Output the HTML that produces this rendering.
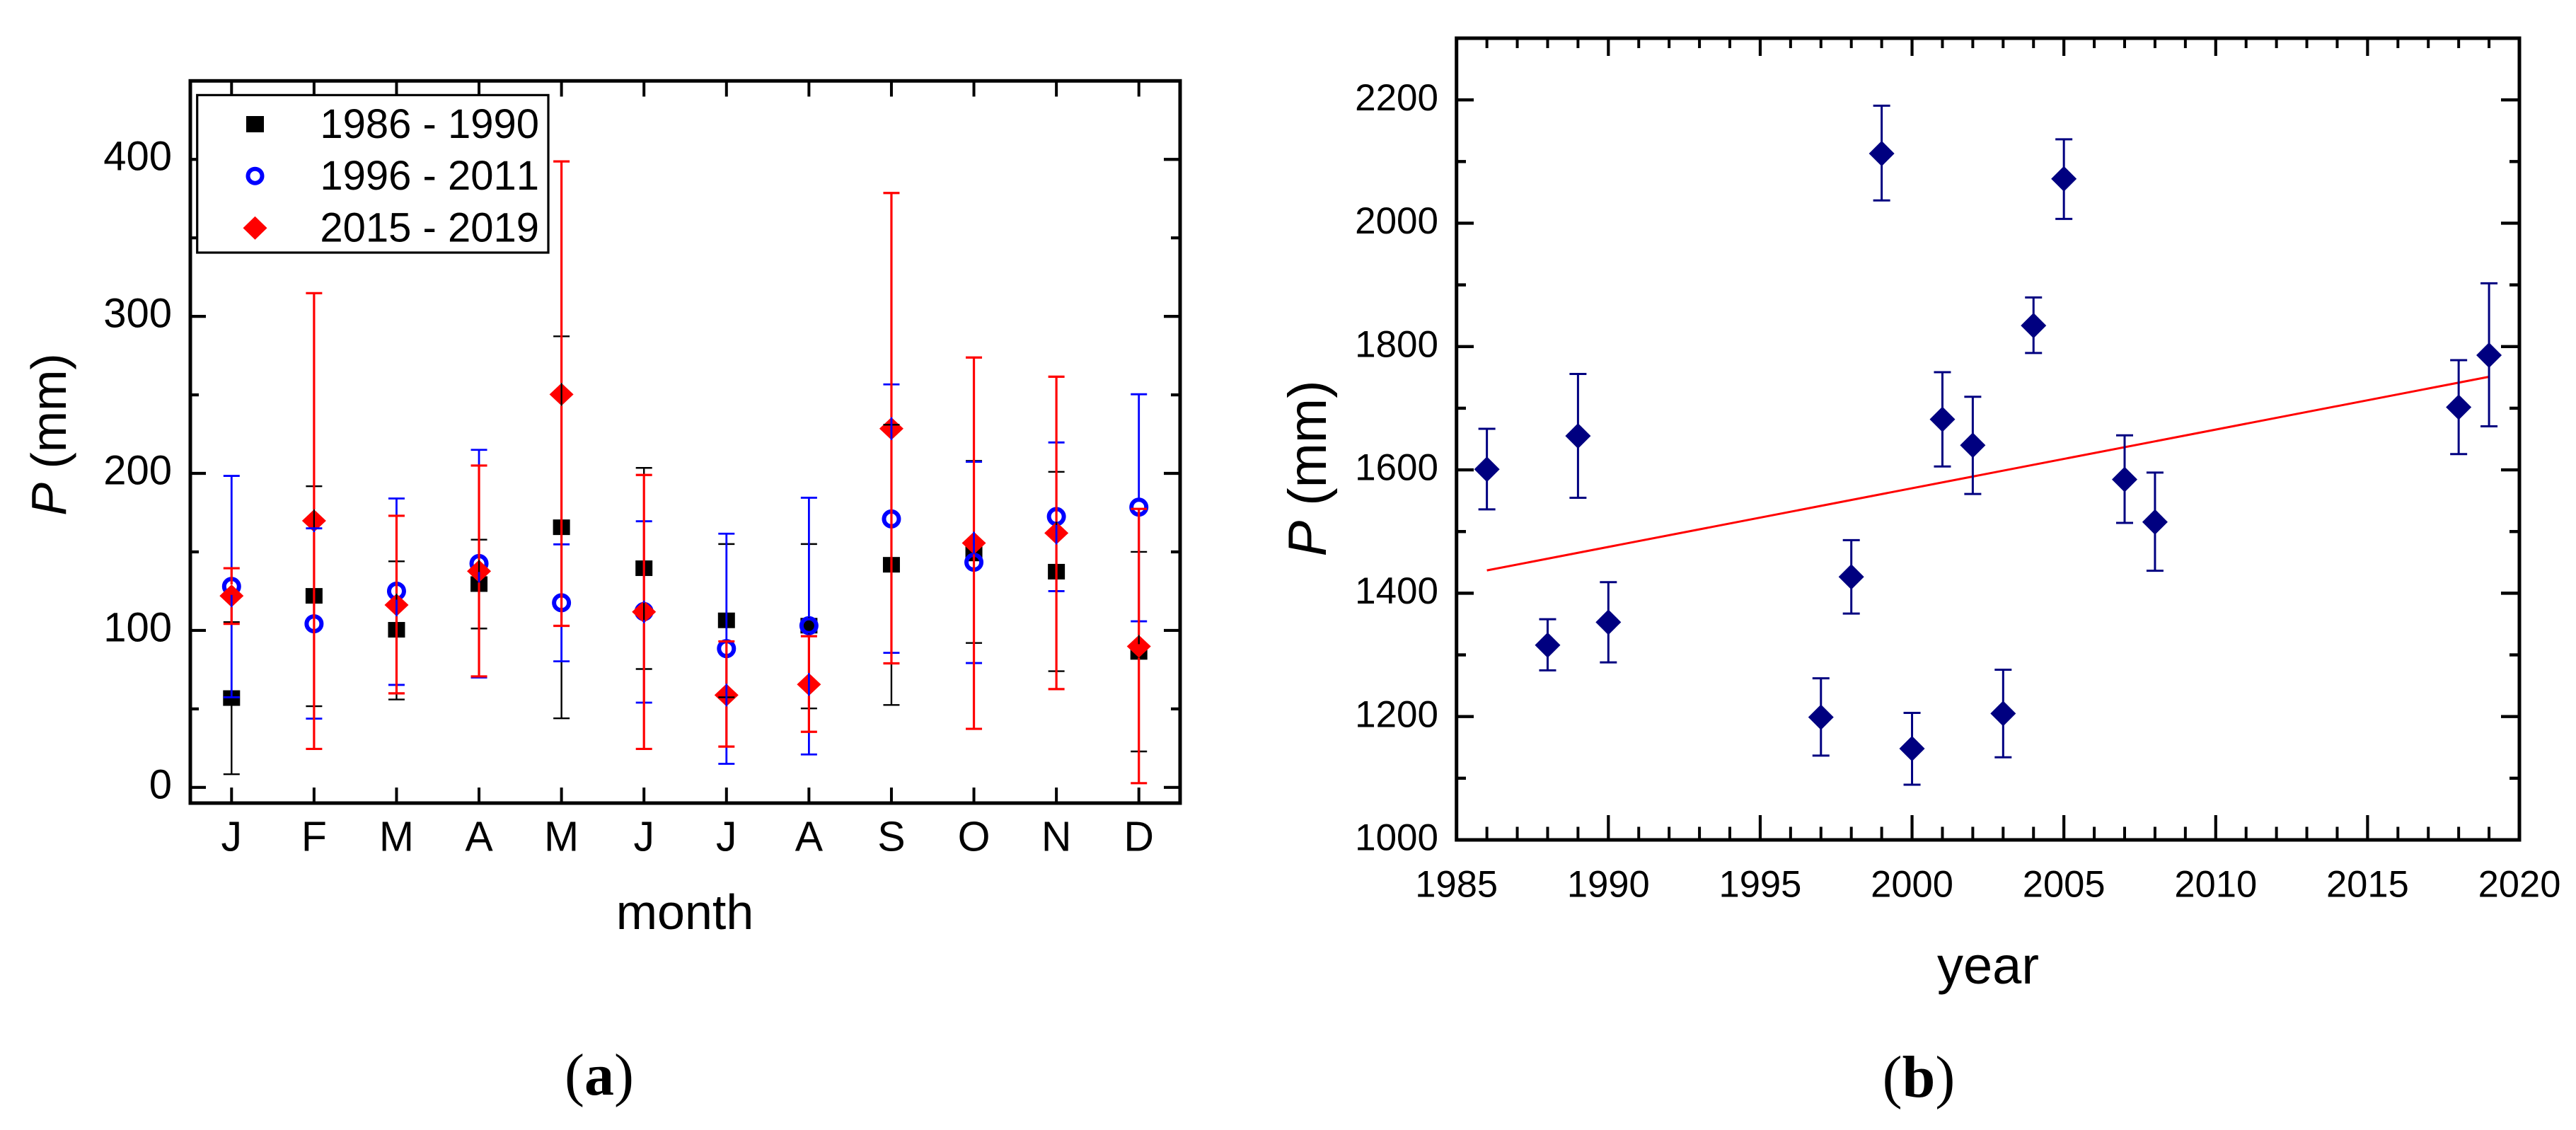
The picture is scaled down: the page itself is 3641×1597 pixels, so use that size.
<!DOCTYPE html>
<html lang="en">
<head>
<meta charset="utf-8">
<title>Precipitation charts</title>
<style>
html,body{margin:0;padding:0;background:#fff;}
svg{display:block;}
text{font-family:"Liberation Sans",Arial,sans-serif;fill:#000;font-kerning:none;}
.cap{font-family:"Liberation Serif","Times New Roman",serif;}
</style>
</head>
<body>
<svg xmlns="http://www.w3.org/2000/svg" width="3641" height="1597" viewBox="0 0 3641 1597">
  <rect x="0" y="0" width="3641" height="1597" fill="#fff"/>

  <g id="panel-a">
    <g id="a-axes"></g>
    <g id="a-marks"></g>
    <rect x="269" y="114.3" width="1399" height="1020.7" fill="none" stroke="#000" stroke-width="5"/>
    <text x="968" y="1313" font-size="70" text-anchor="middle">month</text>
    <text transform="translate(93 614) rotate(-90)" font-size="70" text-anchor="middle"><tspan font-style="italic">P</tspan> (mm)</text>
    <g>
      <rect x="278.7" y="134.4" width="496.3" height="222.6" fill="#fff" stroke="#000" stroke-width="3.2"/>
      <g>
        <rect x="348" y="164" width="25" height="23" fill="#000"/>
        <text x="762" y="195" font-size="58" text-anchor="end">1986 - 1990</text>
      </g>
      <g>
        <circle cx="360.5" cy="248.7" r="10" fill="none" stroke="#0000ff" stroke-width="6"/>
        <text x="762" y="268" font-size="58" text-anchor="end">1996 - 2011</text>
      </g>
      <g>
        <polygon points="360.5,305.8 377.5,322.3 360.5,338.8 343.5,322.3" fill="#ff0000"/>
        <text x="762" y="341.5" font-size="58" text-anchor="end">2015 - 2019</text>
      </g>
    </g>
    <text class="cap" x="847" y="1547" font-size="84" text-anchor="middle">(<tspan font-weight="bold">a</tspan>)</text>
  </g>

  <g id="panel-b">
    <g id="b-axes"></g>
    <g id="b-marks"></g>
    <rect x="2058.7" y="54" width="1502.3" height="1133" fill="none" stroke="#000" stroke-width="5"/>
    <text x="2810" y="1390" font-size="74" text-anchor="middle">year</text>
    <text transform="translate(1874 662) rotate(-90)" font-size="76" text-anchor="middle"><tspan font-style="italic">P</tspan> (mm)</text>
    <text class="cap" x="2712" y="1550" font-size="84" text-anchor="middle">(<tspan font-weight="bold">b</tspan>)</text>
  </g>
</svg>

<script>
// Panel (a) data
const monthLabels = ["J","F","M","A","M","J","J","A","S","O","N","D"];
const aYMajor = [0,100,200,300,400];
const aYMinor = [50,150,250,350];

const black1986Mean  = [56.9,122,100.4,129.5,165.7,139.6,106.4,103,141.8,149,137.4,86.3];
const black1986Upper = [105.3,191.8,144,157.8,287.3,203.5,155,155,231,208,201,150];
const black1986Lower = [8.4,51.7,56,101.2,44,75.4,57.4,50.3,52.5,92,74,22.9];

const blue1996Mean  = [128,104.2,125,142.6,117.6,112,88.4,103,171,143.4,172.5,178.5];
const blue1996Upper = [198.4,165,184,215,154.8,169.5,161.6,184.5,256.7,207.4,219.7,250.4];
const blue1996Lower = [57.4,43.8,65.3,70,80.3,54,15,21,85.7,79.2,125,105.8];

const red2015Mean  = [122,169.8,116.2,137.7,250.3,111.8,58.8,65.6,228.5,155.6,162,89.8];
const red2015Upper = [139.6,314.8,173,205,398.7,199,93,96.3,378.6,273.8,261.6,177.4];
const red2015Lower = [104.2,24.5,59.9,70.7,102.9,24.5,26,35.4,79,37.3,62.6,2.7];

// Panel (b) data
const bYears = [1986,1988,1989,1990,1997,1998,1999,2000,2001,2002,2003,2004,2005,2007,2008,2018,2019];
const bMean  = [1601,1315.8,1655,1353,1199,1426.5,2113,1148,1682,1640,1205,1834,2072,1584.5,1515.5,1701.6,1786];
const bUpper = [1666.6,1357.8,1755.5,1418,1262,1486,2190.5,1206,1758.5,1718.6,1276,1879.6,2136,1656,1595.6,1778,1902.5];
const bLower = [1536,1275,1554.7,1287.8,1136.7,1367,2037,1089.5,1605.6,1561,1134,1789.5,2007,1514,1436.5,1625.6,1670.6];
const bFitYears = [1986,2019];
const bFitValues = [1437,1751];
const bXMajor = [1985,1990,1995,2000,2005,2010,2015,2020];
const bXMinor = [1986,1987,1988,1989,1991,1992,1993,1994,1996,1997,1998,1999,2001,2002,2003,2004,2006,2007,2008,2009,2011,2012,2013,2014,2016,2017,2018,2019];
const bYMajor = [1200,1400,1600,1800,2000,2200];
const bYLabels = [1000,1200,1400,1600,1800,2000,2200];
const bYMinor = [1100,1300,1500,1700,1900,2100];

const NS = "http://www.w3.org/2000/svg";
function linear(d0, d1, r0, r1) {
  return function (v) { return r0 + (v - d0) * (r1 - r0) / (d1 - d0); };
}
function add(parent, tag, attrs, name) {
  const el = document.createElementNS(NS, tag);
  for (const k in attrs) el.setAttribute(k, attrs[k]);
  
  
  parent.appendChild(el);
  return el;
}
function line(parent, x1, y1, x2, y2, color, width, name) {
  return add(parent, 'line', {x1: x1, y1: y1, x2: x2, y2: y2, stroke: color, 'stroke-width': width}, name);
}
function label(parent, x, y, size, anchor, str, name) {
  const t = add(parent, 'text', {x: x, y: y, 'font-size': size, 'text-anchor': anchor}, name);
  t.textContent = str;
  return t;
}
function errorBar(parent, x, yMean, yUp, yLow, gap, capHalf, color, width, name) {
  if (yMean - gap > yUp) line(parent, x, yUp, x, yMean - gap, color, width, name + '-upper-stem');
  if (yMean + gap < yLow) line(parent, x, yMean + gap, x, yLow, color, width, name + '-lower-stem');
  line(parent, x - capHalf, yUp, x + capHalf, yUp, color, width, name + '-upper-cap');
  line(parent, x - capHalf, yLow, x + capHalf, yLow, color, width, name + '-lower-cap');
}
function diamond(parent, x, y, hw, hh, color, name) {
  add(parent, 'polygon', {points: [x, y - hh, x + hw, y, x, y + hh, x - hw, y].join(' '), fill: color}, name);
}

/* Panel (a) */
const ax = linear(0.5, 12.5, 269, 1668);
const ay = linear(-10, 450, 1135, 114.3);
const aAxes = document.getElementById('a-axes');
const aMarks = document.getElementById('a-marks');

monthLabels.forEach(function (m, i) {
  const x = ax(i + 1);
  line(aAxes, x, 1135, x, 1113, '#000', 4, 'x-tick-bottom-' + (i + 1));
  line(aAxes, x, 114.3, x, 136.5, '#000', 4, 'x-tick-top-' + (i + 1));
  label(aAxes, x, 1202.5, 59, 'middle', m, 'x-tick-label-' + (i + 1));
});
aYMajor.forEach(function (v) {
  const y = ay(v);
  line(aAxes, 269, y, 291, y, '#000', 4.2, 'y-tick-left-' + v);
  line(aAxes, 1668, y, 1645, y, '#000', 4.2, 'y-tick-right-' + v);
  label(aAxes, 243, y + 15.5, 58, 'end', String(v), 'y-tick-label-' + v);
});
aYMinor.forEach(function (v) {
  const y = ay(v);
  line(aAxes, 269, y, 281, y, '#000', 4.2, 'y-minor-tick-left-' + v);
  line(aAxes, 1668, y, 1655, y, '#000', 4.2, 'y-minor-tick-right-' + v);
});

black1986Mean.forEach(function (v, i) {
  add(aMarks, 'rect', {x: ax(i + 1) - 12, y: ay(v) - 11, width: 24, height: 22, fill: '#000'}, 'point-1986-1990-' + (i + 1));
});
blue1996Mean.forEach(function (v, i) {
  add(aMarks, 'circle', {cx: ax(i + 1), cy: ay(v), r: 10.5, fill: 'none', stroke: '#0000ff', 'stroke-width': 6}, 'point-1996-2011-' + (i + 1));
});
red2015Mean.forEach(function (v, i) {
  diamond(aMarks, ax(i + 1), ay(v), 17, 16, '#ff0000', 'point-2015-2019-' + (i + 1));
});
black1986Mean.forEach(function (v, i) {
  errorBar(aMarks, ax(i + 1), ay(v), ay(black1986Upper[i]), ay(black1986Lower[i]), 11, 11.5, '#000', 2.4, 'error-1986-1990-' + (i + 1));
});
blue1996Mean.forEach(function (v, i) {
  errorBar(aMarks, ax(i + 1), ay(v), ay(blue1996Upper[i]), ay(blue1996Lower[i]), 12, 11.5, '#0000ff', 2.8, 'error-1996-2011-' + (i + 1));
});
red2015Mean.forEach(function (v, i) {
  errorBar(aMarks, ax(i + 1), ay(v), ay(red2015Upper[i]), ay(red2015Lower[i]), 16, 11.5, '#ff0000', 3.2, 'error-2015-2019-' + (i + 1));
});

/* Panel (b) */
const bx = linear(1985, 2020, 2058.7, 3561);
const by = linear(1000, 2300, 1187, 54);
const bAxes = document.getElementById('b-axes');
const bMarks = document.getElementById('b-marks');

bXMajor.forEach(function (v) {
  const x = bx(v);
  line(bAxes, x, 1187, x, 1152, '#000', 4.2, 'year-tick-bottom-' + v);
  line(bAxes, x, 54, x, 79, '#000', 4.2, 'year-tick-top-' + v);
  label(bAxes, x, 1267.7, 52.5, 'middle', String(v), 'year-tick-label-' + v);
});
bXMinor.forEach(function (v) {
  const x = bx(v);
  line(bAxes, x, 1187, x, 1168.5, '#000', 4, 'year-minor-tick-bottom-' + v);
  line(bAxes, x, 54, x, 68, '#000', 4, 'year-minor-tick-top-' + v);
});
bYMajor.forEach(function (v) {
  const y = by(v);
  line(bAxes, 2058.7, y, 2083, y, '#000', 4.4, 'p-tick-left-' + v);
  line(bAxes, 3561, y, 3535, y, '#000', 4.4, 'p-tick-right-' + v);
});
bYLabels.forEach(function (v) {
  label(bAxes, 2033, by(v) + 14.6, 53, 'end', String(v), 'p-tick-label-' + v);
});
bYMinor.forEach(function (v) {
  const y = by(v);
  line(bAxes, 2058.7, y, 2072, y, '#000', 4.4, 'p-minor-tick-left-' + v);
  line(bAxes, 3561, y, 3547, y, '#000', 4.4, 'p-minor-tick-right-' + v);
});

add(bMarks, 'line', {x1: bx(bFitYears[0]), y1: by(bFitValues[0]), x2: bx(bFitYears[1]), y2: by(bFitValues[1]), stroke: '#ff0000', 'stroke-width': 3}, 'trend-line');
bYears.forEach(function (yr, i) {
  errorBar(bMarks, bx(yr), by(bMean[i]), by(bUpper[i]), by(bLower[i]), 0, 12, '#000080', 3, 'annual-error-' + yr);
  diamond(bMarks, bx(yr), by(bMean[i]), 18, 18, '#000080', 'annual-point-' + yr);
});
</script>
</body>
</html>
